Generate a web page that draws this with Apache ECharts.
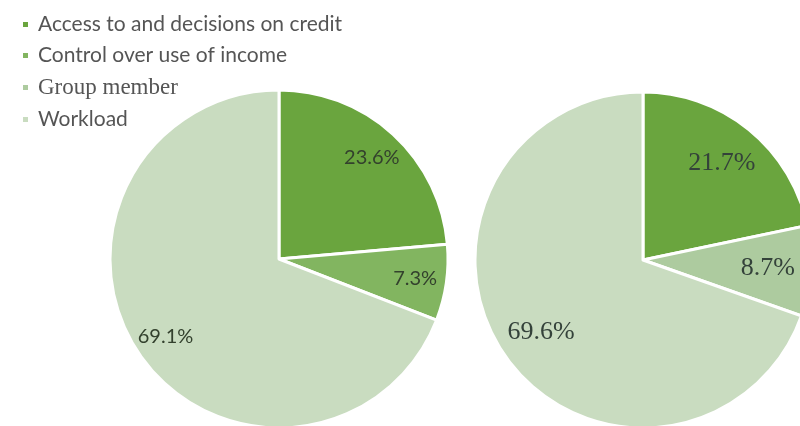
<!DOCTYPE html>
<html><head><meta charset="utf-8">
<script src="https://cdn.jsdelivr.net/npm/echarts@6/dist/echarts.min.js"></script>
<style>html,body{margin:0;padding:0;background:#fff}#c{width:800px;height:426px}</style>
</head><body><div id="c"></div>
<script>
const categories = ['Access to and decisions on credit','Control over use of income','Group member','Workload'];
const leftNames = ['Access to and decisions on credit','Control over use of income','Workload'];
const leftValues = [23.6, 7.3, 69.1];
const rightNames = ['Access to and decisions on credit','Group member','Workload'];
const rightValues = [21.7, 8.7, 69.6];

const colors = {
  'Access to and decisions on credit':'#6aa53e',
  'Control over use of income':'#82b560',
  'Group member':'#adcb9f',
  'Workload':'#c9dcc0'
};
const mk = (names, vals, hideColor) => names.map((n,i)=>({name:n, value:vals[i],
  itemStyle:{color: hideColor ? 'rgba(0,0,0,0)' : colors[n]}}));

const chart = echarts.init(document.getElementById('c'));
const base = {type:'pie', startAngle:90, clockwise:true, animation:false};
chart.setOption({
  backgroundColor:'#fff',
  legend:{
    orient:'vertical', left:16, top:9, icon:'rect', itemWidth:7, itemHeight:7, itemGap:10,
    data: categories.map(n=>({name:n, textStyle: n==='Group member'
      ? {fontFamily:'Liberation Serif', fontSize:23, color:'#555'}
      : {fontFamily:'Lato', fontSize:21, color:'#555'}})),
    textStyle:{lineHeight:21, padding:[0,0,0,4]}
  },
  series:[
    Object.assign({}, base, {name:'L', center:[279,259], radius:[0,169],
      itemStyle:{borderColor:'#fff', borderWidth:3}, label:{show:false}, labelLine:{show:false},
      data: mk(leftNames, leftValues, false)}),
    Object.assign({}, base, {name:'Ll', center:[279,259], radius:[100,169], silent:true,
      label:{show:true, position:'inside', formatter:p=>p.value.toFixed(1)+'%', fontFamily:'Lato', fontSize:20, color:'#33412d'},
      labelLine:{show:false}, data: mk(leftNames, leftValues, true)}),
    Object.assign({}, base, {name:'R', center:[643,260], radius:[0,168],
      itemStyle:{borderColor:'#fff', borderWidth:3}, label:{show:false}, labelLine:{show:false},
      data: mk(rightNames, rightValues, false)}),
    Object.assign({}, base, {name:'Rl', center:[643,260], radius:[76,168], silent:true,
      label:{show:true, position:'inside', formatter:p=>p.value.toFixed(1)+'%', fontFamily:'Liberation Serif', fontSize:26, color:'#34423a'},
      labelLine:{show:false}, data: mk(rightNames, rightValues, true)})
  ]
});
</script></body></html>
